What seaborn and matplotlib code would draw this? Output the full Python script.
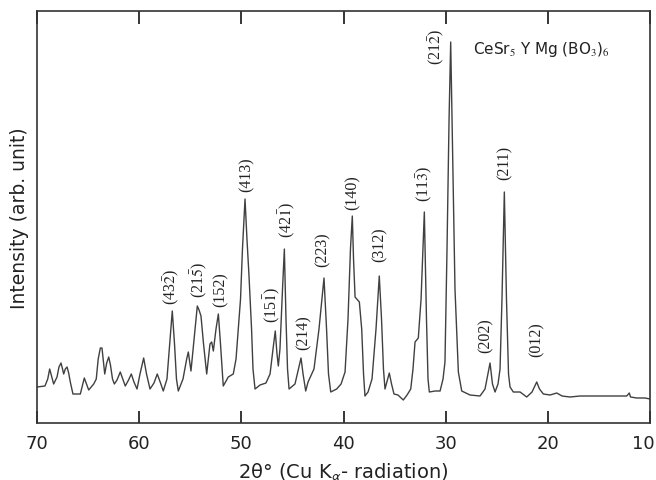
import numpy as np
import seaborn as sns
import matplotlib.pyplot as plt
import matplotlib.transforms as mtransforms
import pandas as pd

# XRD pattern (2theta in degrees, intensity in arb. units)
two_theta = [70.00, 69.22, 68.95, 68.76, 68.58, 68.37, 68.04, 67.85, 67.65, 67.50,
             67.39, 67.23, 67.06, 66.90, 66.74, 66.48, 65.76, 65.57, 65.37, 65.16,
             64.94, 64.45, 64.20, 64.01, 63.80, 63.64, 63.51, 63.37, 63.18, 62.98,
             62.81, 62.61, 62.43, 62.17, 61.85, 61.61, 61.36, 61.04, 60.77, 60.51,
             60.21, 59.92, 59.56, 59.28, 58.94, 58.55, 58.23, 57.91, 57.64, 57.28,
             56.98, 56.76, 56.54, 56.35, 56.17, 55.71, 55.35, 55.19, 54.93, 54.63,
             54.31, 54.14, 53.95, 53.70, 53.39, 53.07, 52.90, 52.74, 52.48, 52.25,
             52.04, 51.77, 51.28, 50.79, 50.52, 50.30, 50.08, 49.89, 49.64, 49.45,
             49.25, 49.00, 48.86, 48.66, 48.17, 47.59, 47.19, 46.90, 46.68, 46.51,
             46.38, 46.22, 45.97, 45.79, 45.63, 45.48, 45.33, 44.75, 44.36, 44.16,
             43.96, 43.70, 43.47, 42.89, 42.40, 41.91, 41.66, 41.47, 41.25, 40.67,
             40.24, 39.85, 39.56, 39.32, 39.14, 39.02, 38.87, 38.45, 38.22, 38.04,
             37.90, 37.60, 37.21, 36.82, 36.50, 36.28, 36.09, 35.94, 35.52, 35.30,
             35.06, 34.67, 34.15, 33.78, 33.42, 33.20, 33.00, 32.68, 32.41, 32.09,
             31.88, 31.73, 31.60, 31.04, 30.55, 30.26, 30.07, 29.87, 29.67, 29.51,
             29.33, 29.09, 28.76, 28.43, 27.62, 26.64, 26.15, 25.66, 25.42, 25.17,
             24.88, 24.68, 24.49, 24.26, 24.05, 23.85, 23.70, 23.38, 22.72, 22.07,
             21.55, 21.09, 20.82, 20.44, 19.79, 19.13, 18.61, 17.83, 16.85, 15.87,
             14.60, 13.43, 12.28, 12.03, 11.91, 11.30, 10.49, 10.00]
intensity = [36, 37, 44, 54, 47, 39, 46, 56, 60, 54,
             49, 54, 56, 50, 41, 29, 29, 37, 45, 39,
             33, 39, 44, 64, 75, 75, 62, 49, 60, 66,
             58, 44, 39, 43, 51, 44, 37, 43, 49, 41,
             34, 49, 65, 49, 34, 40, 49, 40, 32, 44,
             84, 112, 79, 44, 32, 44, 64, 71, 52, 84,
             117, 113, 107, 79, 49, 79, 81, 72, 94, 109,
             79, 37, 46, 49, 64, 94, 124, 174, 224, 184,
             147, 94, 54, 34, 38, 40, 49, 74, 92, 69,
             57, 74, 134, 174, 104, 54, 34, 39, 56, 65,
             49, 32, 41, 54, 94, 145, 94, 49, 31, 34,
             39, 51, 104, 174, 207, 164, 126, 121, 94, 49,
             27, 31, 44, 94, 147, 104, 54, 34, 50, 39,
             29, 28, 23, 28, 34, 54, 81, 85, 124, 211,
             104, 44, 31, 32, 32, 44, 61, 174, 304, 381,
             274, 134, 51, 32, 28, 27, 34, 60, 39, 31,
             39, 54, 124, 231, 124, 49, 36, 31, 31, 26,
             31, 41, 34, 29, 28, 30, 27, 26, 27, 27,
             27, 27, 27, 30, 26, 25, 25, 24]

# Miller index labels
hkl_labels = [r'(43$\bar{2}$)', r'(21$\bar{5}$)', '(152)', '(413)', r'(15$\bar{1}$)',
              r'(42$\bar{1}$)', '(214)', '(223)', '(140)', '(312)',
              r'(11$\bar{3}$)', r'(21$\bar{2}$)', '(211)', '(202)', '(012)']
hkl_x = [56.79, 54.14, 52.02, 49.47, 47.00, 45.53, 43.87, 42.01, 39.14, 36.43,
         32.02, 30.88, 24.19, 26.08, 21.06]
hkl_y = [119, 126, 117, 232, 101, 186, 74, 157, 214, 162, 222, 359, 244, 71, 67]

x_ticks = [70, 60, 50, 40, 30, 20, 10]

df = pd.DataFrame({'2theta': two_theta, 'I': intensity})

sns.set_theme(style="ticks")
plt.rcParams['font.family'] = ['DejaVu Sans']
plt.rcParams['mathtext.fontset'] = 'stix'

fig = plt.figure(figsize=(6.56, 4.81), dpi=100)
ax = fig.add_axes([0.0564, 0.1185, 0.9345, 0.8565])

sns.lineplot(data=df, x='2theta', y='I', ax=ax, color='#404040', linewidth=1.0,
             sort=False, estimator=None)

ax.set_xlim(70, 10)
ax.set_ylim(0, 412)
ax.set_xticks(x_ticks)
ax.set_xticklabels([str(t) for t in x_ticks], fontsize=13, color='#222222')
ax.set_yticks([])
ax.tick_params(axis='x', direction='in', length=9, width=1.3, top=True, pad=8)
for s in ax.spines.values():
    s.set_linewidth(1.2)
    s.set_color('#333333')

# keep the last tick label ("10") inside the figure
last = ax.get_xticklabels()[-1]
last.set_transform(last.get_transform() +
                   mtransforms.ScaledTranslation(-5 / 72, 0, fig.dpi_scale_trans))

ax.set_xlabel(r'2θ° (Cu K$_{\mathsf{\alpha}}$- radiation)', fontsize=14, color='#222222', labelpad=6)
ax.set_ylabel('Intensity (arb. unit)', fontsize=13.5, color='#222222', labelpad=6)

for lab, x, y in zip(hkl_labels, hkl_x, hkl_y):
    ax.text(x, y, lab, rotation=90, ha='center', va='bottom',
            fontsize=11.5, family='Liberation Serif', color='#222222')

ax.text(0.712, 0.91, r'CeSr$_5$ Y Mg (BO$_3$)$_6$', transform=ax.transAxes,
        fontsize=11, color='#222222', ha='left', va='center')

plt.savefig('out.png', dpi=100)
